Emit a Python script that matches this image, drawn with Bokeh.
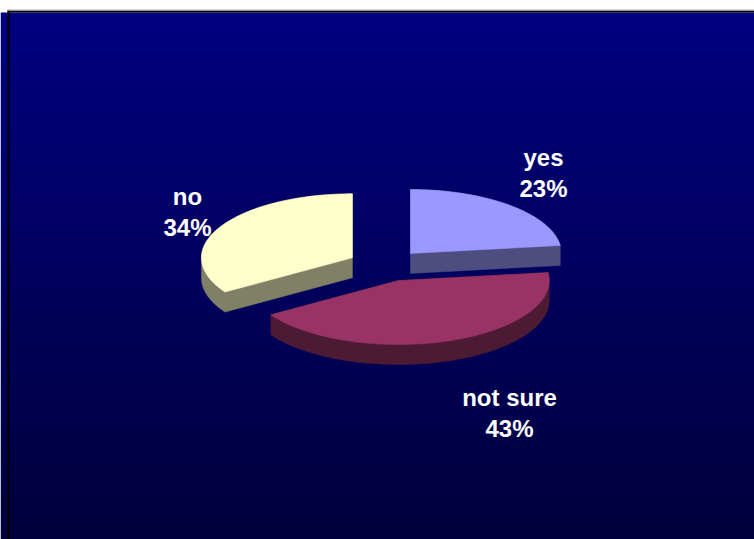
import numpy as np
from bokeh.plotting import figure
from bokeh.models import Range1d
from bokeh.embed import file_html
from bokeh.resources import INLINE
from bokeh.core.properties import value

# ---- data ----
categories = ["yes", "not sure", "no"]
percents = [23, 43, 34]
pct_labels = ["23%", "43%", "34%"]

# ---- styles ----
top_colors = ["#9999FF", "#993366", "#FFFFCC"]
side_colors = ["#4D4D80", "#4D1A33", "#808066"]
FONT = "Liberation Sans"

# ---- layout (screen pixel coordinates) ----
W, H = 754, 539
CX, CY = 385.0, 265.0     # pie centre
RX, RY = 151.0, 64.0      # ellipse radii of the tilted pie
THICK = 20.0              # depth of the pie
EXPLODE = 0.25            # fraction of radius
# label anchor offsets (from pie centre) of the percentage line baselines
label_dx = [158, 124, -198]
label_dy = [-77, 163, -38]
LINE_GAP = 31

p = figure(width=W, height=H, x_range=Range1d(0, W), y_range=Range1d(H, 0),
           output_backend="svg", toolbar_location=None, min_border=0,
           x_axis_location=None, y_axis_location=None)
p.grid.visible = False
p.outline_line_color = None
p.background_fill_color = "white"
p.border_fill_color = "white"

# ---- gradient background (one row per pixel) ----
g_top, g_bot = 12, H
rows = g_bot - g_top
t = np.linspace(0, 1, rows)
blue = np.round(128 + (60 - 128) * t).astype(np.uint32)
img = np.zeros((rows, 1), dtype=np.uint32)
view = img.view(dtype=np.uint8).reshape((rows, 1, 4))
view[:, 0, 0] = 0
view[:, 0, 1] = 0
view[:, 0, 2] = blue
view[:, 0, 3] = 255
p.image_rgba(image=[img], x=0, y=g_top, dw=W, dh=rows)

# black frame (left & top) and grey hairline above
p.quad(left=[7, 7], right=[9, W], top=[10, 10], bottom=[H, 12],
       fill_color="black", line_color=None)
p.quad(left=[7], right=[W], top=[9], bottom=[10], fill_color="#b0b0b0", line_color=None)


def hull(pts):
    pts = sorted(set(pts))
    def cross(o, a, b):
        return (a[0]-o[0])*(b[1]-o[1]) - (a[1]-o[1])*(b[0]-o[0])
    lower, upper = [], []
    for q in pts:
        while len(lower) >= 2 and cross(lower[-2], lower[-1], q) <= 0:
            lower.pop()
        lower.append(q)
    for q in reversed(pts):
        while len(upper) >= 2 and cross(upper[-2], upper[-1], q) <= 0:
            upper.pop()
        upper.append(q)
    return lower[:-1] + upper[:-1]


total = float(sum(percents))
angles = np.cumsum([0] + [v / total * 360.0 for v in percents])
slices = []
for i in range(len(percents)):
    a0, a1 = angles[i], angles[i + 1]
    mid = np.radians((a0 + a1) / 2)
    ax = CX + EXPLODE * RX * np.sin(mid)
    ay = CY - EXPLODE * RY * np.cos(mid)
    th = np.radians(np.linspace(a0, a1, 80))
    xs = [ax] + list(ax + RX * np.sin(th))
    ys = [ay] + list(ay - RY * np.cos(th))
    top_pts = [(round(x, 3), round(y, 3)) for x, y in zip(xs, ys)]
    bot_pts = [(x, y + THICK) for x, y in top_pts]
    h = hull(top_pts + bot_pts)
    slices.append((i, xs, ys, [q[0] for q in h], [q[1] for q in h]))

# draw back to front: yes, no, not sure
order = [0, 2, 1]
for i in order:
    _, xs, ys, hx, hy = slices[i]
    p.patch(hx, hy, fill_color=side_colors[i], line_color=side_colors[i], line_width=0.5)
    p.patch(xs, ys, fill_color=top_colors[i], line_color=top_colors[i], line_width=0.5)

# labels
lx = [CX + d for d in label_dx]
ly = [CY + d for d in label_dy]
p.text(x=lx, y=[y - LINE_GAP for y in ly], text=categories, text_color="white",
       text_font=value(FONT), text_font_style="bold", text_font_size="24px",
       text_align="center", text_baseline="alphabetic")
p.text(x=lx, y=ly, text=pct_labels, text_color="white",
       text_font=value(FONT), text_font_style="bold", text_font_size="24px",
       text_align="center", text_baseline="alphabetic")

open("out.html", "w").write(file_html(p, INLINE))
